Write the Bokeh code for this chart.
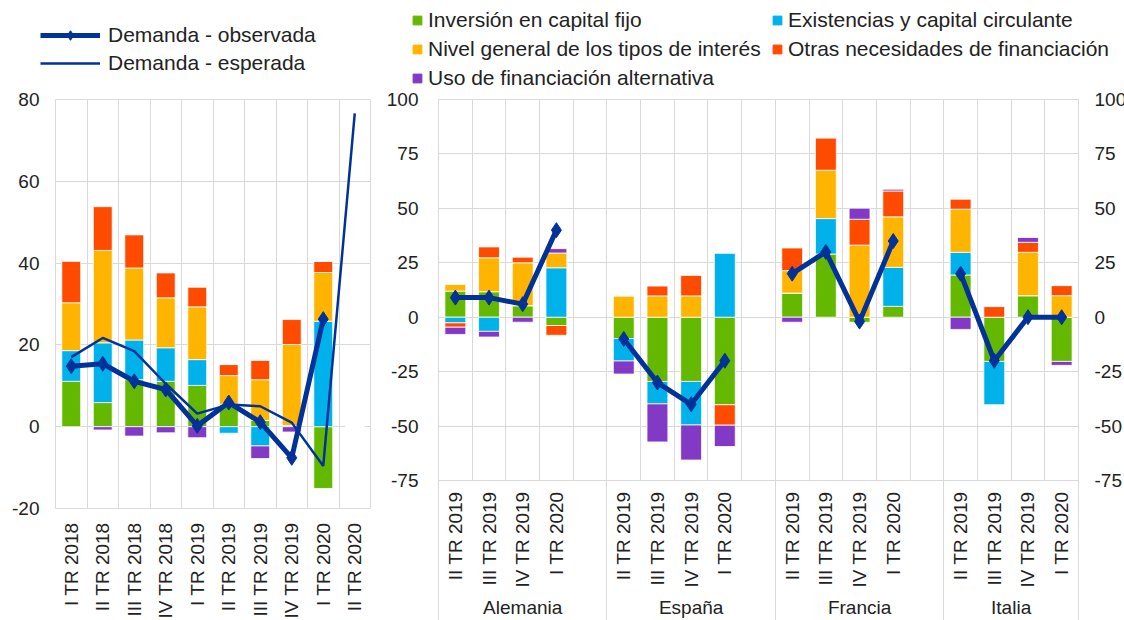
import math
import numpy as np
from bokeh.plotting import figure
from bokeh.models import Range1d, FixedTicker, LinearAxis, Legend, LegendItem
from bokeh.layouts import row, column
from bokeh.embed import file_html
from bokeh.resources import INLINE

# ---------------- data ----------------
series_names = ["Inversión en capital fijo", "Existencias y capital circulante",
                "Nivel general de los tipos de interés", "Otras necesidades de financiación",
                "Uso de financiación alternativa"]
series_colors = ["#65B800", "#00B1EA", "#FFB400", "#FF4B00", "#8139C6"]

# left panel (euro area, time series)
quarters_left = ["I TR 2018", "II TR 2018", "III TR 2018", "IV TR 2018", "I TR 2019",
                 "II TR 2019", "III TR 2019", "IV TR 2019", "I TR 2020", "II TR 2020"]
green_left = [11.1, 5.9, 11.5, 11.1, 10.1, 5.5, 1.5, 0.3, -15.1, 0.0]
blue_left = [7.5, 14.6, 9.7, 8.2, 6.3, -1.6, -4.7, 0.0, 25.8, 0.0]
yellow_left = [11.7, 22.6, 17.6, 12.2, 12.9, 7.0, 10.0, 19.8, 11.9, 0.0]
red_left = [10.2, 10.7, 8.1, 6.1, 4.8, 2.7, 4.7, 6.1, 2.7, 0.0]
purple_left = [0.0, -0.8, -2.3, -1.5, -2.7, 0.0, -3.1, -1.3, 0.0, 0.0]
observed_left = [14.8, 15.4, 11.1, 9.1, 0.2, 5.9, 1.1, -7.6, 26.3]
expected_left = [17.0, 21.7, 18.5, 10.5, 3.2, 5.4, 5.0, 1.0, -9.6, 76.6]

# right panel (countries)
countries = ["Alemania", "España", "Francia", "Italia"]
quarters_right = ["II TR 2019", "III TR 2019", "IV TR 2019", "I TR 2020"]
green_right = [12.0, 11.7, 5.3, -3.8,   -9.8, -29.5, -29.5, -40.2,   11.1, 29.0, -2.3, 5.0,   19.4, -20.3, 9.9, -20.3]
blue_right = [-2.6, -6.5, 0.0, 22.7,    -10.3, -10.3, -20.0, 29.5,   0.0, 16.3, 0.0, 17.9,    10.4, -19.9, 0.0, 0.0]
yellow_right = [3.0, 15.6, 19.7, 6.8,   9.8, 9.8, 9.8, 0.0,          10.3, 22.2, 33.1, 23.2,  19.8, 0.0, 19.9, 9.9]
red_right = [-2.0, 5.0, 2.6, -4.5,      0.0, 4.5, 9.4, -9.4,         10.4, 14.9, 11.9, 11.9,  4.6, 4.9, 4.6, 4.6]
purple_right = [-3.3, -2.6, -2.3, 2.0,  -6.0, -17.5, -16.1, -9.8,    -2.3, 0.0, 5.1, 0.8,     -5.6, 0.0, 2.2, -1.8]
observed_right = [9, 9, 6, 40,          -10, -30, -40, -20,          20, 30, -2, 35,          20, -20, 0, 0]

left_yticks = [-20, 0, 20, 40, 60, 80]
right_yticks = [-75, -50, -25, 0, 25, 50, 75, 100]

# ---------------- style ----------------
FONT = "Liberation Sans"
GRID = "#d9d9d9"
TXT = "#222222"
LINE = "#003299"


def stack(series_list):
    n = len(series_list[0])
    pos = np.zeros(n)
    neg = np.zeros(n)
    out = []
    for s in series_list:
        s = np.asarray(s, dtype=float)
        bottom = np.where(s >= 0, pos, neg)
        top = bottom + s
        pos = np.where(s >= 0, top, pos)
        neg = np.where(s < 0, top, neg)
        out.append((bottom, top))
    return out


def style(p):
    p.background_fill_color = "white"
    p.border_fill_color = "white"
    p.outline_line_color = GRID
    for ax in p.axis:
        ax.axis_line_color = None
        ax.major_tick_line_color = None
        ax.minor_tick_line_color = None
        ax.major_label_text_font = FONT
        ax.major_label_text_color = TXT
    p.xgrid.grid_line_color = GRID
    p.ygrid.grid_line_color = GRID


def legend_figure(width, height):
    f = figure(width=width, height=height, x_range=Range1d(0, 1), y_range=Range1d(0, 1),
               output_backend="svg", toolbar_location=None,
               x_axis_location=None, y_axis_location=None,
               min_border_left=0, min_border_right=0, min_border_top=0, min_border_bottom=0)
    f.outline_line_color = None
    f.grid.visible = False
    f.background_fill_color = "white"
    f.border_fill_color = "white"
    return f


# points placed outside the legend figures' visible range: they only feed the legend glyphs
HIDDEN_X = [5, 6]
HIDDEN_Y = [5, 5]

# ---------------- left panel ----------------
xl = list(range(len(quarters_left)))
left = figure(frame_width=315, frame_height=409,
              x_range=Range1d(-0.5, len(xl) - 0.5), y_range=Range1d(-20, 80),
              output_backend="svg", toolbar_location=None,
              min_border_left=55, min_border_right=13, min_border_top=14, min_border_bottom=112)
style(left)
left.xaxis.ticker = FixedTicker(ticks=xl)
left.xaxis.major_label_overrides = {i: q for i, q in zip(xl, quarters_left)}
left.xaxis.major_label_orientation = math.pi / 2
left.xaxis.major_label_text_font_size = "19px"
left.xaxis.major_label_standoff = 8
left.xgrid.ticker = FixedTicker(ticks=[i - 0.5 for i in range(len(xl) + 1)])
left.yaxis.ticker = FixedTicker(ticks=left_yticks)
left.yaxis.major_label_overrides = {t: str(t) for t in left_yticks}
left.yaxis.major_label_text_font_size = "19px"
left.yaxis.major_label_standoff = 10

for (b, t), c in zip(stack([green_left, blue_left, yellow_left, red_left, purple_left]), series_colors):
    left.vbar(x=xl, width=0.6, bottom=b, top=t, fill_color=c, line_color="white", line_width=0.8)

left.line(x=xl, y=expected_left, line_color=LINE, line_width=2.5)
left.line(x=xl[:len(observed_left)], y=observed_left, line_color=LINE, line_width=5, line_join="round")
left.scatter(x=xl[:len(observed_left)], y=observed_left, marker="diamond", size=15,
             fill_color=LINE, line_color=LINE)

leg_fig_left = legend_figure(383, 85)
lo_line = leg_fig_left.line(x=HIDDEN_X, y=HIDDEN_Y, line_color=LINE, line_width=5)
lo_mark = leg_fig_left.scatter(x=HIDDEN_X, y=HIDDEN_Y, marker="diamond", fill_color=LINE, line_color=LINE)
le_line = leg_fig_left.line(x=HIDDEN_X, y=HIDDEN_Y, line_color=LINE, line_width=2.5)
leg_left = Legend(items=[LegendItem(label="Demanda - observada", renderers=[lo_line, lo_mark]),
                         LegendItem(label="Demanda - esperada", renderers=[le_line])],
                  location=(40, 10), glyph_width=60, glyph_height=24, label_height=24,
                  spacing=4, padding=0, margin=0, label_standoff=8,
                  label_text_font=FONT, label_text_font_size="21px", label_text_color=TXT,
                  border_line_color=None, background_fill_alpha=0)
leg_fig_left.add_layout(leg_left)

# ---------------- right panel ----------------
gap = 1
slots = []
for ci in range(len(countries)):
    for qi in range(len(quarters_right)):
        slots.append(ci * (len(quarters_right) + gap) + qi)
n_slots = slots[-1] + 1
labels_right = [quarters_right[i % len(quarters_right)] for i in range(len(slots))]
separators = [ci * (len(quarters_right) + gap) - 0.5 for ci in range(len(countries))] + [n_slots - 0.5]
group_centers = [(separators[i] + separators[i + 1]) / 2 for i in range(len(countries))]

right = figure(frame_width=640, frame_height=381,
               x_range=Range1d(-0.5, n_slots - 0.5), y_range=Range1d(-75, 100),
               output_backend="svg", toolbar_location=None,
               min_border_left=44, min_border_right=49, min_border_top=11, min_border_bottom=140)
right.add_layout(LinearAxis(ticker=FixedTicker(ticks=right_yticks)), "right")
grp_axis = LinearAxis(ticker=FixedTicker(ticks=group_centers),
                      major_label_overrides={g: c for g, c in zip(group_centers, countries)})
right.add_layout(grp_axis, "below")
sep_axis = LinearAxis(ticker=FixedTicker(ticks=separators),
                      major_label_overrides={s: "" for s in separators})
right.add_layout(sep_axis, "below")
style(right)
xa = right.xaxis[0]
xa.ticker = FixedTicker(ticks=slots)
xa.major_label_overrides = {s: l for s, l in zip(slots, labels_right)}
xa.major_label_orientation = math.pi / 2
xa.major_label_text_font_size = "19px"
xa.major_label_standoff = 5
grp_axis.major_label_text_font_size = "19px"
grp_axis.major_label_standoff = 0
sep_axis.major_label_text_font_size = "1px"
sep_axis.major_label_standoff = 0
sep_axis.major_tick_line_color = GRID
sep_axis.major_tick_out = 0
sep_axis.major_tick_in = 140
for ax in right.yaxis:
    ax.ticker = FixedTicker(ticks=right_yticks)
    ax.major_label_overrides = {t: str(t) for t in right_yticks}
    ax.major_label_text_font_size = "19px"
right.yaxis[0].major_label_standoff = 14
right.yaxis[1].major_label_standoff = 10
right.xgrid.ticker = FixedTicker(ticks=[i - 0.5 for i in range(n_slots + 1)])

for (b, t), c in zip(stack([green_right, blue_right, yellow_right, red_right, purple_right]), series_colors):
    right.vbar(x=slots, width=0.62, bottom=b, top=t, fill_color=c, line_color="white", line_width=0.8)

nq = len(quarters_right)
for ci in range(len(countries)):
    xs = slots[ci * nq:(ci + 1) * nq]
    ys = observed_right[ci * nq:(ci + 1) * nq]
    right.line(x=xs, y=ys, line_color=LINE, line_width=5, line_join="round")
    right.scatter(x=xs, y=ys, marker="diamond", size=15, fill_color=LINE, line_color=LINE)

leg_fig_right = legend_figure(733, 88)
legend_marks = [leg_fig_right.scatter(x=HIDDEN_X, y=HIDDEN_Y, marker="square", fill_color=c, line_color=c)
                for c in series_colors]
leg_right = Legend(items=[LegendItem(label=n, renderers=[r]) for n, r in zip(series_names, legend_marks)],
                   location=(23, -2), orientation="horizontal", ncols=2,
                   glyph_width=22, glyph_height=24, label_height=24, label_width=333,
                   spacing=5, padding=0, margin=0,
                   label_standoff=0, label_text_font=FONT, label_text_font_size="21px",
                   label_text_color=TXT, border_line_color=None, background_fill_alpha=0)
leg_fig_right.add_layout(leg_right)

layout = row(column(column(leg_fig_left), column(left)),
             column(column(leg_fig_right), column(right)))
open("out.html", "w").write(file_html(layout, INLINE))
